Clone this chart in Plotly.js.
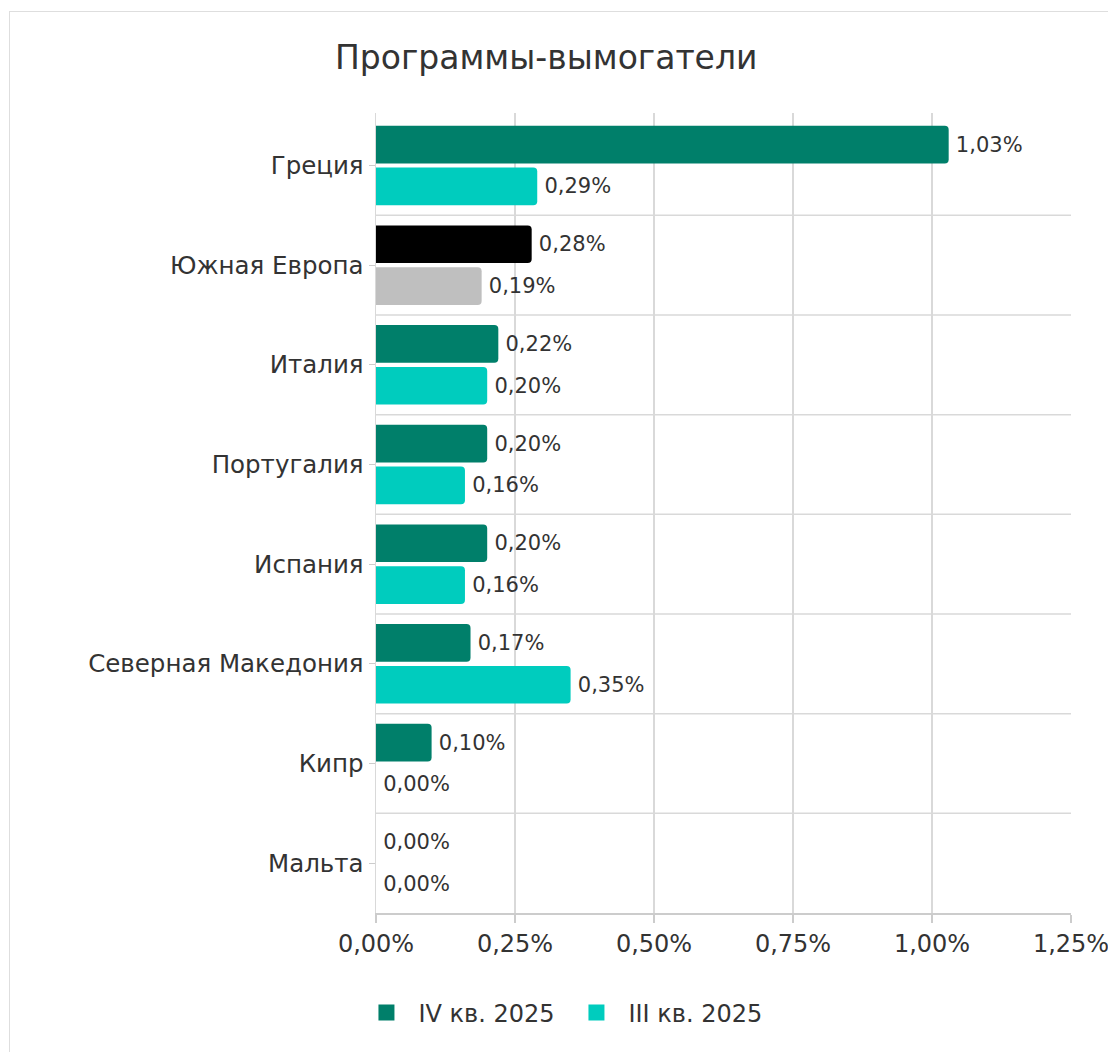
<!DOCTYPE html>
<html>
<head>
<meta charset="utf-8">
<script src="https://cdn.plot.ly/plotly-3.0.1.min.js"></script>
<style>
  html, body { margin: 0; padding: 0; background: #fff; }
  #chart { position: absolute; left: 0; top: 0; width: 1108px; height: 1052px; }
  #frame { position: absolute; left: 9px; top: 11px; width: 1120px; height: 1100px; border: 1px solid #dedede; pointer-events: none; }
</style>
</head>
<body>
<div id="chart"></div>
<div id="frame"></div>
<script>
const categories = ["Греция", "Южная Европа", "Италия", "Португалия", "Испания", "Северная Македония", "Кипр", "Мальта"];
const seriesNames = ["IV кв. 2025", "III кв. 2025"];
const q4Values = [1.03, 0.28, 0.22, 0.20, 0.20, 0.17, 0.10, 0.00];
const q3Values = [0.29, 0.19, 0.20, 0.16, 0.16, 0.35, 0.00, 0.00];
const highlightCategory = "Южная Европа";
const xTickVals = [0, 0.25, 0.5, 0.75, 1.0, 1.25];
const xTickText = xTickVals.map(v => v.toFixed(2).replace(".", ",") + "%");

const q4Color = "#007F6A", q3Color = "#00CCBE";
const hiQ4Color = "#000000", hiQ3Color = "#BFBFBF";
const FONT = "'DejaVu Sans', sans-serif";
const TXT = "#333333";

const q4Colors = categories.map(c => c === highlightCategory ? hiQ4Color : q4Color);
const q3Colors = categories.map(c => c === highlightCategory ? hiQ3Color : q3Color);

const barText = { family: FONT, size: 21, color: TXT };
const traces = [
  { type: "bar", orientation: "h", name: seriesNames[0], y: categories, x: q4Values,
    marker: { color: q4Colors }, texttemplate: "\u2009%{x:.2f}%", textposition: "outside",
    cliponaxis: false, textfont: barText, showlegend: false },
  { type: "bar", orientation: "h", name: seriesNames[1], y: categories, x: q3Values,
    marker: { color: q3Colors }, texttemplate: "\u2009%{x:.2f}%", textposition: "outside",
    cliponaxis: false, textfont: barText, showlegend: false },
  // legend entries (no visible data points)
  { type: "scatter", mode: "markers", name: seriesNames[0], x: [null], y: [categories[0]],
    marker: { symbol: "square", size: 20, color: q4Color }, hoverinfo: "skip" },
  { type: "scatter", mode: "markers", name: seriesNames[1], x: [null], y: [categories[0]],
    marker: { symbol: "square", size: 20, color: q3Color }, hoverinfo: "skip" }
];

const shapes = categories.slice(1).map((c, i) => ({
  type: "line", xref: "paper", yref: "y", x0: 0, x1: 1, y0: i + 0.5, y1: i + 0.5,
  line: { color: "#d9d9d9", width: 1.5 }, layer: "below"
}));

const layout = {
  width: 1108, height: 1052,
  paper_bgcolor: "rgba(0,0,0,0)", plot_bgcolor: "#ffffff",
  margin: { l: 376, r: 37, t: 113, b: 139 },
  separators: ", ",
  font: { family: FONT, color: TXT, size: 22 },
  title: { text: "Программы-вымогатели", x: 0.493, xanchor: "center", xref: "container",
           y: 1 - 57 / 1052, yanchor: "middle", yref: "container",
           font: { family: FONT, size: 33, color: TXT } },
  barmode: "group", bargap: 0.16, bargroupgap: 0.1, barcornerradius: 4,
  xaxis: { range: [0, 1.25], tickmode: "array", tickvals: xTickVals, ticktext: xTickText,
           ticklabeloverflow: "allow",
           showgrid: true, gridcolor: "#d9d9d9", gridwidth: 1.5, zeroline: false,
           showline: true, linecolor: "#cccccc", linewidth: 2, ticks: "outside", ticklen: 8,
           tickcolor: "#cccccc", tickwidth: 2, tickfont: { family: FONT, size: 24, color: TXT } },
  yaxis: { type: "category", autorange: "reversed", showgrid: false, zeroline: false,
           showline: true, linecolor: "#d9d9d9", linewidth: 1.5, ticks: "outside", ticklen: 6,
           tickcolor: "#cccccc", tickfont: { family: FONT, size: 24.5, color: TXT } },
  shapes: shapes,
  showlegend: true,
  legend: { orientation: "h", x: -0.031, xanchor: "left", y: -0.125, yanchor: "middle",
            font: { family: FONT, size: 24, color: TXT }, itemwidth: 54, itemsizing: "trace",
            entrywidth: 141, entrywidthmode: "pixels", traceorder: "normal" }
};

Plotly.newPlot("chart", traces, layout, { displayModeBar: false, staticPlot: true });
</script>
</body>
</html>
